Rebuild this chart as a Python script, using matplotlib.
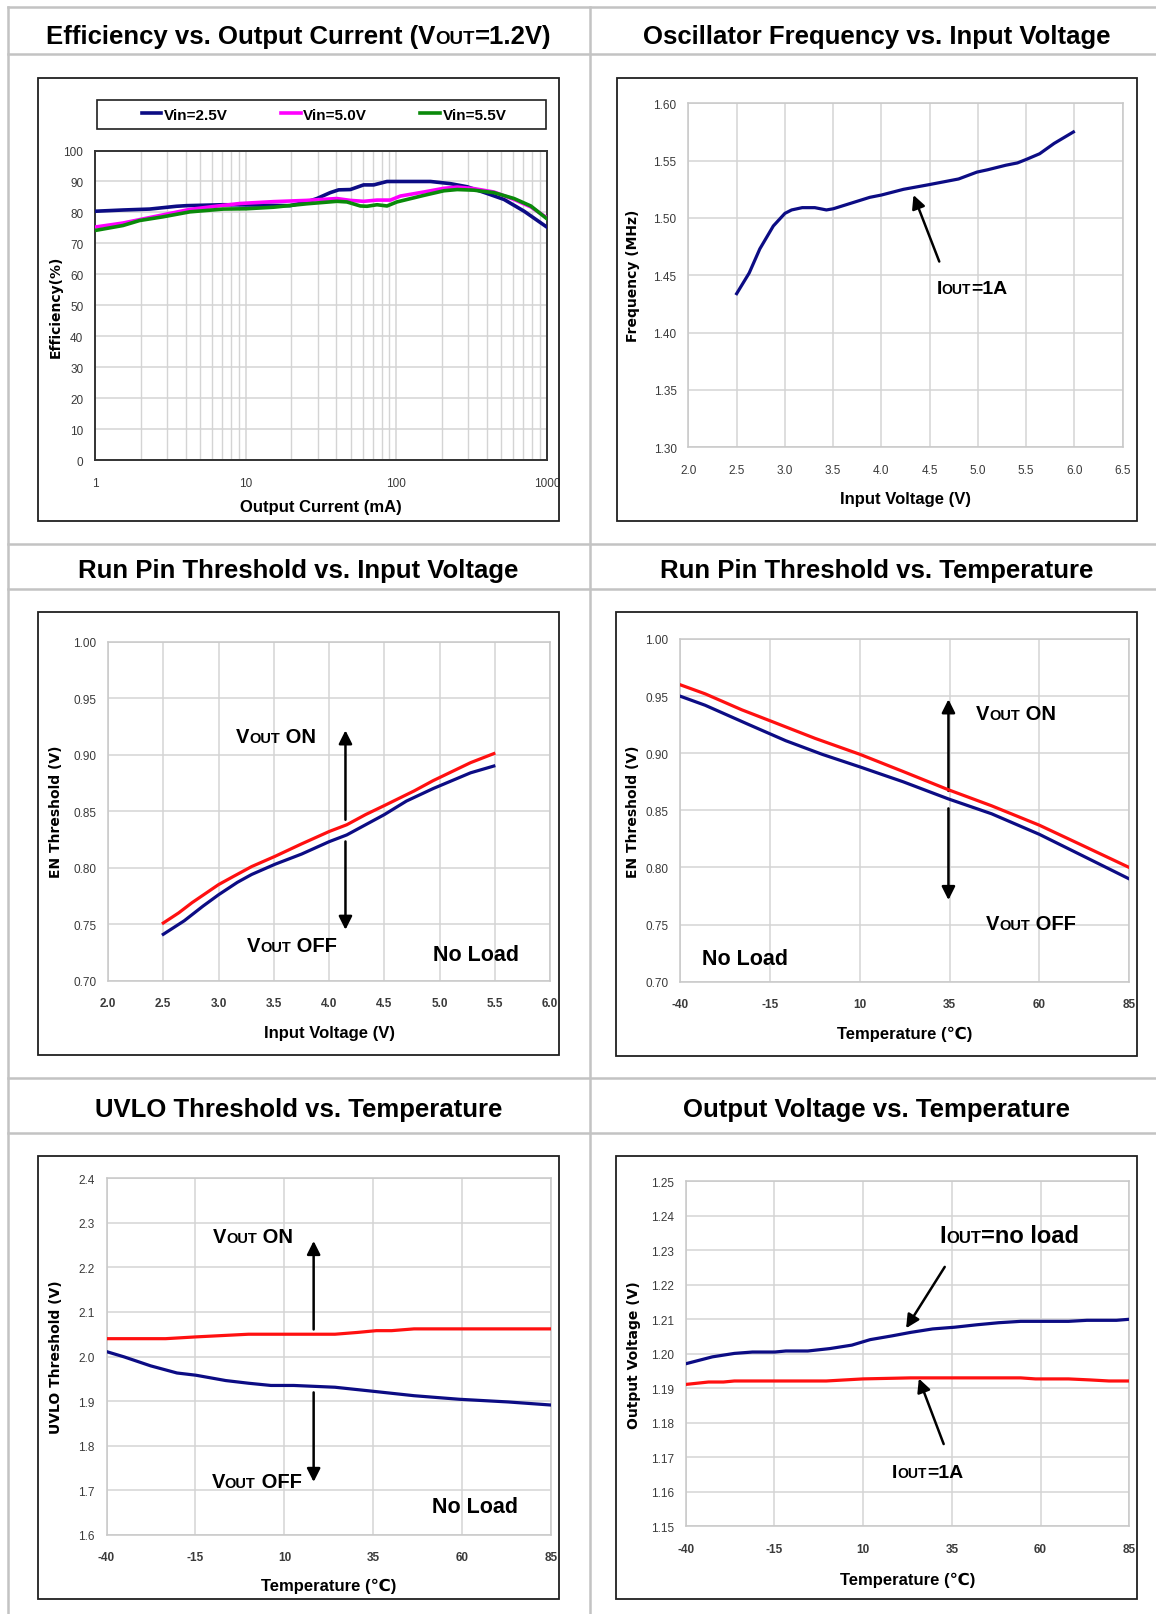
import numpy as np
import matplotlib
matplotlib.use("Agg")
import matplotlib.pyplot as plt
from matplotlib.patches import Rectangle
from matplotlib.lines import Line2D
from matplotlib.transforms import IdentityTransform
from matplotlib.ticker import NullFormatter

W, H = 1156, 1615

# --- Efficiency vs output current (mA, %) ---
eff_i_25 = [1, 1.53, 2.30, 3.46, 4.04, 7.09, 11.8, 19.7, 25.4, 29.7, 36.4, 41.4,
            49.5, 60.7, 70.8, 86.8, 169, 229, 296, 403, 520, 707, 1000]
eff_25 = [80.4, 80.8, 81.1, 82.0, 82.2, 82.5, 82.4, 82.2, 83.4, 84.5, 86.4, 87.3,
          87.4, 88.9, 88.9, 90.0, 90.0, 89.3, 88.3, 86.1, 84.2, 80.4, 75.3]
eff_i_50 = [1, 1.53, 2.55, 4.25, 7.09, 9.15, 15.3, 25.4, 40.3, 49.5, 60.7, 74.5,
            91.4, 106.5, 152, 207, 254, 328, 446, 606, 783, 1000]
eff_50 = [75.3, 76.6, 78.8, 81.0, 82.3, 82.9, 83.5, 83.9, 84.5, 83.9, 83.6, 84.0,
          84.0, 85.3, 86.6, 87.8, 88.2, 87.7, 86.6, 84.2, 81.8, 78.3]
eff_i_55 = [1, 1.53, 1.97, 2.82, 4.25, 7.09, 10.1, 15.3, 25.4, 40.3, 47, 57.7,
            63.9, 74.5, 86.8, 101, 152, 207, 254, 328, 446, 606, 783, 1000]
eff_55 = [74.2, 75.8, 77.4, 78.6, 80.2, 81.1, 81.2, 81.7, 82.8, 83.6, 83.4, 82.1,
          82.0, 82.5, 82.1, 83.4, 85.5, 87.0, 87.4, 87.2, 86.4, 84.5, 82.1, 78.0]
eff_labels = ["Vin=2.5V", "Vin=5.0V", "Vin=5.5V"]

# --- Oscillator frequency vs input voltage ---
osc_vin = [2.50, 2.63, 2.74, 2.88, 3.00, 3.07, 3.18, 3.31, 3.43, 3.50, 3.69, 3.88,
           4.00, 4.23, 4.49, 4.80, 4.99, 5.10, 5.29, 5.41, 5.50, 5.64, 5.79, 5.99]
osc_f = [1.434, 1.452, 1.473, 1.493, 1.504, 1.507, 1.509, 1.509, 1.507, 1.508, 1.513, 1.518,
         1.520, 1.525, 1.529, 1.534, 1.540, 1.542, 1.546, 1.548, 1.551, 1.556, 1.565, 1.575]

# --- Run pin threshold vs input voltage ---
rv_on_x = [2.50, 2.64, 2.76, 2.88, 3.00, 3.13, 3.30, 3.51, 3.75, 4.00, 4.16, 4.33,
           4.50, 4.77, 4.94, 5.11, 5.28, 5.49]
rv_on = [0.751, 0.760, 0.769, 0.777, 0.785, 0.792, 0.801, 0.810, 0.821, 0.832, 0.838, 0.847,
         0.855, 0.868, 0.877, 0.885, 0.893, 0.901]
rv_off_x = [2.50, 2.69, 2.86, 3.00, 3.17, 3.30, 3.51, 3.75, 4.00, 4.16, 4.33, 4.50,
            4.70, 4.94, 5.11, 5.28, 5.49]
rv_off = [0.741, 0.753, 0.766, 0.776, 0.787, 0.794, 0.803, 0.812, 0.823, 0.829, 0.838, 0.847,
          0.859, 0.870, 0.877, 0.884, 0.890]

# --- Run pin threshold vs temperature ---
rt_on_x = [-40, -33.0, -22.8, -14.6, -2.4, 10.1, 22.1, 34.7, 46.7, 60.0, 72.2, 85]
rt_on = [0.960, 0.952, 0.938, 0.928, 0.913, 0.899, 0.884, 0.868, 0.854, 0.837, 0.819, 0.800]
rt_off_x = [-40, -33.0, -20.8, -10.6, -0.4, 10.1, 22.1, 34.7, 46.7, 60.0, 72.2, 85]
rt_off = [0.950, 0.942, 0.925, 0.911, 0.899, 0.888, 0.875, 0.860, 0.847, 0.829, 0.810, 0.790]

# --- UVLO threshold vs temperature ---
uv_on_x = [-40, -23.4, -14.9, -0.1, 10.4, 24.2, 30.5, 35.8, 40.1, 46.4, 85]
uv_on = [2.040, 2.040, 2.044, 2.050, 2.050, 2.050, 2.054, 2.058, 2.058, 2.062, 2.062]
uv_off_x = [-40, -35, -27.6, -20.2, -14.9, -6.5, -0.1, 6.2, 12.6, 24.2, 34.8, 46.4, 59.1, 72.8, 85]
uv_off = [2.011, 1.999, 1.979, 1.963, 1.958, 1.946, 1.940, 1.935, 1.935, 1.931, 1.922, 1.912,
          1.904, 1.898, 1.891]

# --- Output voltage vs temperature ---
ov_nl_x = [-40, -32.5, -26.3, -21.2, -14.9, -11.8, -5.6, 0.6, 6.8, 12.0, 18.2, 23.4, 29.6,
           35.8, 42.0, 48.2, 54.4, 67.9, 73.1, 81.4, 85]
ov_nl = [1.1971, 1.1991, 1.2001, 1.2005, 1.2005, 1.2008, 1.2008, 1.2015, 1.2025, 1.2041,
         1.2052, 1.2062, 1.2072, 1.2077, 1.2084, 1.2090, 1.2094, 1.2094, 1.2097, 1.2097, 1.2100]
ov_1a_x = [-40, -33.6, -29.4, -26.3, -0.4, 9.9, 23.4, 54.4, 58.6, 67.9, 74.1, 79.3, 85]
ov_1a = [1.1911, 1.1918, 1.1918, 1.1921, 1.1921, 1.1927, 1.1930, 1.1930, 1.1927, 1.1927,
         1.1924, 1.1921, 1.1921]

temp_ticks = [-40, -15, 10, 35, 60, 85]

NAVY = "#0c0c84"
RED = "#ff1010"
MAGENTA = "#ff00ff"
GREEN = "#0a8a0a"
GRID = "#d4d4d4"
TABLE = "#c3c3c3"

BOLD = ["Liberation Sans", "DejaVu Sans"]
NARROW = ["Liberation Sans Narrow", "Liberation Sans", "DejaVu Sans"]
WIDE = ["DejaVu Sans"]

fig = plt.figure(figsize=(W / 100, H / 100), dpi=100)
renderer = fig.canvas.get_renderer()


def px_rect(x0, y0, x1, y1):
    return [x0 / W, 1 - y1 / H, (x1 - x0) / W, (y1 - y0) / H]


def table_line(xs, ys):
    fig.add_artist(Line2D([x / W for x in xs], [1 - y / H for y in ys],
                          transform=fig.transFigure, color=TABLE, lw=1.8))


def rich_text(x, y, parts, ha="left"):
    # pieces of bold text sharing one baseline, x/y in display pixels
    items = [fig.text(0, 0, s, fontsize=size, fontweight="bold", family=BOLD,
                      va="baseline", ha="left", transform=IdentityTransform())
             for s, size in parts]
    widths = [t.get_window_extent(renderer).width for t in items]
    if ha == "center":
        x -= sum(widths) / 2
    for t, w in zip(items, widths):
        t.set_position((x, y))
        x += w


def title(cx, base_y, parts):
    rich_text(cx, H - base_y, parts, ha="center")


def note(ax, x, y, parts):
    dx, dy = ax.transData.transform((x, y))
    rich_text(dx, dy, parts)


def arrow(ax, tail, tip, both=False):
    ax.annotate("", xy=tip, xytext=tail, zorder=2,
                arrowprops=dict(arrowstyle="<|-|>" if both else "-|>", color="black",
                                lw=1.8, shrinkA=0, shrinkB=0, mutation_scale=20))


def chart(box, area, xlabel, xlabel_y, ylabel, ylabel_x, dark_frame=False):
    fig.add_artist(Rectangle((box[0] / W, 1 - box[3] / H), (box[2] - box[0]) / W,
                             (box[3] - box[1]) / H, transform=fig.transFigure,
                             fill=False, ec="#202020", lw=1.3))
    ax = fig.add_axes(px_rect(*area))
    ax.grid(True, color=GRID, lw=1.1)
    ax.set_axisbelow(True)
    for s in ax.spines.values():
        s.set_color("#333333" if dark_frame else "#c8c8c8")
        s.set_linewidth(1.4 if dark_frame else 1.1)
    ax.tick_params(which="both", length=0, labelcolor="#3a3a3a")
    ax.tick_params(axis="y", pad=8.5)
    ax.tick_params(axis="x", pad=12)
    fig.text((area[0] + area[2]) / 2 / W, 1 - xlabel_y / H, xlabel, ha="center", va="center",
             fontsize=12, family=NARROW, fontweight="bold")
    fig.text(ylabel_x / W, 1 - (area[1] + area[3]) / 2 / H, ylabel, rotation=90,
             ha="center", va="center", fontsize=10, family=WIDE, fontweight="bold")
    return ax


def ticks(ax, xt, xl, yt, yl, xbold=False):
    ax.set_xticks(xt, xl, fontsize=8.5, family=NARROW,
                  fontweight="bold" if xbold else "normal")
    ax.set_yticks(yt, yl, fontsize=8.5, family=NARROW)


# --- table grid ---
table_line([8, W], [8, 8])
for yy in [55, 545, 590, 1079, 1134]:
    table_line([8, W], [yy, yy])
table_line([8, 8], [8, H])
table_line([590, 590], [8, H])

T, TS = 18.5, 13.5
title(298.5, 44, [("Efficiency vs. Output Current (V", T), ("OUT", TS), ("=1.2V)", T)])
title(876.6, 44, [("Oscillator Frequency vs. Input Voltage", T)])
title(298, 578, [("Run Pin Threshold vs. Input Voltage", T)])
title(876.8, 578, [("Run Pin Threshold vs. Temperature", T)])
title(298.8, 1117, [("UVLO Threshold vs. Temperature", T)])
title(876.8, 1117, [("Output Voltage vs. Temperature", T)])

# --- efficiency ---
ax = chart((38.4, 79.2, 559, 522.4), (95.2, 151.5, 546.8, 461.4),
           "Output Current (mA)", 508, "Efficiency(%)", 55.7, dark_frame=True)
ax.set_xscale("log")
ax.set_xlim(1, 1000)
ax.set_ylim(0, 100)
ax.grid(True, which="minor", axis="x", color=GRID, lw=1.0)
ticks(ax, [1, 10, 100, 1000], ["1", "10", "100", "1000"],
      list(range(0, 101, 10)), [str(v) for v in range(0, 101, 10)])
ax.xaxis.set_minor_formatter(NullFormatter())
l1, = ax.plot(eff_i_25, eff_25, color=NAVY, lw=2.6, zorder=3)
l2, = ax.plot(eff_i_50, eff_50, color=MAGENTA, lw=2.6, zorder=4)
l3, = ax.plot(eff_i_55, eff_55, color=GREEN, lw=2.6, zorder=5)
fig.add_artist(Rectangle((96.7 / W, 1 - 130.2 / H), 449 / W, 29.3 / H,
                         transform=fig.transFigure, fill=False, ec="#202020", lw=1.2))
fig.legend([l1, l2, l3], eff_labels, loc="center", ncol=3, mode="expand", frameon=False,
           bbox_to_anchor=(134 / W, 1 - 130.2 / H, 380 / W, 29.3 / H), borderpad=0,
           handlelength=1.3, handletextpad=0.15,
           prop=dict(family=NARROW, weight="bold", size=11))

# --- oscillator frequency ---
ax = chart((616.7, 78.5, 1136.6, 522.4), (688.4, 104.3, 1122.6, 448.3),
           "Input Voltage (V)", 499.3, "Frequency (MHz)", 633.3)
ax.set_xlim(2.0, 6.5)
ax.set_ylim(1.30, 1.60)
xs = np.arange(2.0, 6.51, 0.5)
ys = np.arange(1.30, 1.601, 0.05)
ticks(ax, xs, [f"{v:.1f}" for v in xs], ys, [f"{v:.2f}" for v in ys])
ax.plot(osc_vin, osc_f, color=NAVY, lw=2.3, zorder=3)
arrow(ax, (4.60, 1.462), (4.333, 1.520))
note(ax, 4.57, 1.4342, [("I", 14), ("OUT", 10), ("=1A", 14)])

# --- run pin vs input voltage ---
ax = chart((38.4, 612.8, 559, 1056), (108, 642.8, 550.2, 981.6),
           "Input Voltage (V)", 1033.3, "EN Threshold (V)", 55.7)
ax.set_xlim(2.0, 6.0)
ax.set_ylim(0.70, 1.00)
xs = np.arange(2.0, 6.01, 0.5)
ys = np.arange(0.70, 1.001, 0.05)
ticks(ax, xs, [f"{v:.1f}" for v in xs], ys, [f"{v:.2f}" for v in ys], xbold=True)
ax.plot(rv_on_x, rv_on, color=RED, lw=2.3, zorder=3)
ax.plot(rv_off_x, rv_off, color=NAVY, lw=2.3, zorder=3)
arrow(ax, (4.148, 0.8424), (4.148, 0.9216))
arrow(ax, (4.148, 0.8232), (4.148, 0.745))
note(ax, 3.157, 0.911, [("V", 14.5), ("OUT", 10.5), (" ON", 14.5)])
note(ax, 3.253, 0.7265, [("V", 14.5), ("OUT", 10.5), (" OFF", 14.5)])
note(ax, 4.938, 0.7183, [("No Load", 15.5)])

# --- run pin vs temperature ---
ax = chart((616, 612.8, 1137.3, 1056.7), (680, 640, 1129.2, 982.7),
           "Temperature (\u2103)", 1034.3, "EN Threshold (V)", 633.3)
ax.set_xlim(-40, 85)
ax.set_ylim(0.70, 1.00)
ticks(ax, temp_ticks, [str(v) for v in temp_ticks], ys, [f"{v:.2f}" for v in ys], xbold=True)
ax.plot(rt_on_x, rt_on, color=RED, lw=2.3, zorder=3)
ax.plot(rt_off_x, rt_off, color=NAVY, lw=2.3, zorder=3)
arrow(ax, (34.7, 0.867), (34.7, 0.9472))
arrow(ax, (34.7, 0.8517), (34.7, 0.7715))
note(ax, 42.4, 0.9297, [("V", 14.5), ("OUT", 10.5), (" ON", 14.5)])
note(ax, 45.1, 0.7458, [("V", 14.5), ("OUT", 10.5), (" OFF", 14.5)])
note(ax, -33.8, 0.7151, [("No Load", 15.5)])

# --- UVLO vs temperature ---
ax = chart((38.4, 1157, 559, 1600), (106.5, 1179.3, 551.4, 1535.7),
           "Temperature (\u2103)", 1586.4, "UVLO Threshold (V)", 55.7)
ax.set_xlim(-40, 85)
ax.set_ylim(1.6, 2.4)
ys = np.arange(1.6, 2.401, 0.1)
ticks(ax, temp_ticks, [str(v) for v in temp_ticks], ys, [f"{v:.1f}" for v in ys], xbold=True)
ax.plot(uv_on_x, uv_on, color=RED, lw=2.3, zorder=3)
ax.plot(uv_off_x, uv_off, color=NAVY, lw=2.3, zorder=3)
arrow(ax, (18.2, 2.0607), (18.2, 2.2593))
arrow(ax, (18.2, 1.9194), (18.2, 1.7184))
note(ax, -10.2, 2.257, [("V", 14.5), ("OUT", 10.5), (" ON", 14.5)])
note(ax, -10.5, 1.708, [("V", 14.5), ("OUT", 10.5), (" OFF", 14.5)])
note(ax, 51.4, 1.651, [("No Load", 15.5)])

# --- output voltage vs temperature ---
ax = chart((616, 1157, 1137.3, 1600), (685.8, 1182.4, 1129.2, 1527.1),
           "Temperature (\u2103)", 1580.5, "Output Voltage (V)", 634.4)
ax.set_xlim(-40, 85)
ax.set_ylim(1.15, 1.25)
ys = np.arange(1.15, 1.2501, 0.01)
ticks(ax, temp_ticks, [str(v) for v in temp_ticks], ys, [f"{v:.2f}" for v in ys], xbold=True)
ax.plot(ov_nl_x, ov_nl, color=NAVY, lw=2.3, zorder=3)
ax.plot(ov_1a_x, ov_1a, color=RED, lw=2.3, zorder=3)
arrow(ax, (33.0, 1.2252), (22.1, 1.2074))
arrow(ax, (32.7, 1.1738), (25.7, 1.1928))
note(ax, 31.5, 1.2325, [("I", 17), ("OUT", 12), ("=no load", 17)])
note(ax, 18.2, 1.1641, [("I", 14), ("OUT", 10), ("=1A", 14)])

fig.savefig("out.png", dpi=100)
